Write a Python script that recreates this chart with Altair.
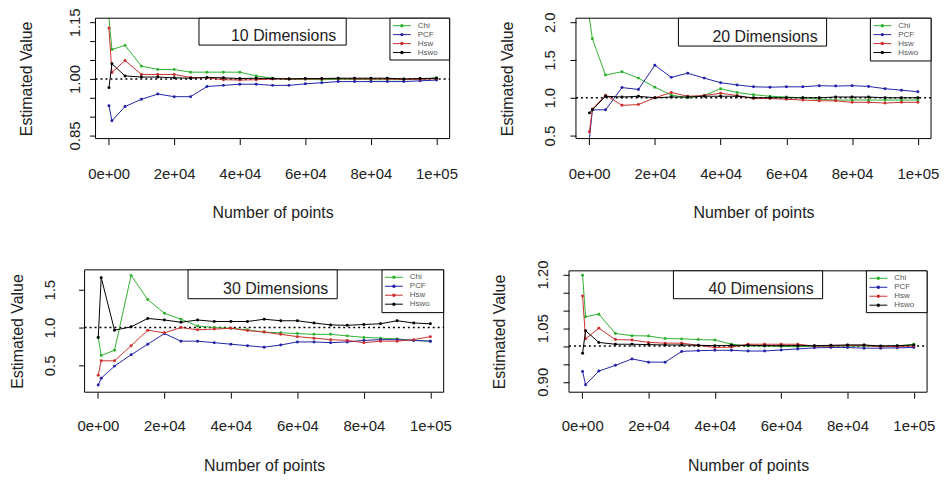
import altair as alt
import pandas as pd

FONT = "Liberation Sans"
W, H = 938, 472

SERIES = ["Chi", "PCF", "Hsw", "Hswo"]
COLORS = {"Chi": "#2fb12f", "PCF": "#2323a8", "Hsw": "#cc2e2e", "Hswo": "#000000"}

X_POINTS = [100, 1000, 5000, 10000, 15000, 20000, 25000, 30000, 35000, 40000, 45000,
            50000, 55000, 60000, 65000, 70000, 75000, 80000, 85000, 90000, 95000, 100000]

# 10 dimensions
chi10 = [1.25, 1.078, 1.089, 1.034, 1.025, 1.025, 1.018, 1.018, 1.018, 1.018, 1.008,
         1.002, 1.0, 0.999, 0.998, 0.999, 0.999, 0.998, 0.998, 0.998, 0.999, 1.003]
pcf10 = [0.929, 0.889, 0.927, 0.946, 0.960, 0.953, 0.953, 0.980, 0.983, 0.986, 0.986,
         0.983, 0.983, 0.987, 0.990, 0.993, 0.993, 0.993, 0.993, 0.993, 0.995, 0.997]
hsw10 = [1.135, 1.017, 1.049, 1.012, 1.012, 1.012, 1.004, 1.003, 0.998, 0.997, 0.998,
         1.0, 1.0, 1.0, 1.0, 1.001, 1.0, 1.0, 1.0, 0.999, 0.999, 1.001]
hswo10 = [0.977, 1.040, 1.008, 1.005, 1.005, 1.003, 1.002, 1.004, 1.003, 1.001, 1.002,
          1.001, 1.0, 1.001, 1.001, 1.002, 1.002, 1.002, 1.002, 1.0, 1.001, 1.002]

# 20 dimensions
chi20 = [2.3, 1.78, 1.30, 1.345, 1.26, 1.14, 1.035, 1.0, 1.03, 1.12, 1.07,
         1.04, 1.02, 1.01, 1.0, 0.98, 0.97, 0.97, 0.97, 0.97, 0.97, 0.97]
pcf20 = [0.40, 0.84, 0.84, 1.135, 1.11, 1.43, 1.27, 1.325, 1.26, 1.20, 1.17,
         1.145, 1.14, 1.145, 1.145, 1.16, 1.155, 1.16, 1.15, 1.12, 1.10, 1.08]
hsw20 = [0.55, 0.85, 1.035, 0.90, 0.91, 1.0, 1.07, 1.02, 1.03, 1.06, 1.03,
         0.99, 0.99, 0.98, 0.97, 0.96, 0.96, 0.94, 0.94, 0.93, 0.94, 0.94]
hswo20 = [0.80, 0.84, 1.02, 1.01, 1.02, 1.0, 1.01, 1.01, 1.02, 1.02, 1.02,
          1.0, 1.0, 1.0, 1.0, 1.0, 1.01, 1.01, 1.01, 1.0, 1.0, 1.0]

# 30 dimensions
chi30 = [0.87, 0.63, 0.70, 1.69, 1.37, 1.19, 1.11, 1.02, 1.0, 0.99, 0.97,
         0.94, 0.93, 0.92, 0.91, 0.91, 0.89, 0.87, 0.86, 0.85, 0.83, 0.82]
pcf30 = [0.24, 0.33, 0.49, 0.64, 0.78, 0.92, 0.82, 0.82, 0.80, 0.78, 0.76,
         0.74, 0.77, 0.81, 0.81, 0.80, 0.81, 0.83, 0.84, 0.84, 0.83, 0.82]
hsw30 = [0.37, 0.56, 0.56, 0.76, 0.965, 0.93, 1.0, 0.97, 0.98, 0.99, 0.96,
         0.94, 0.91, 0.88, 0.86, 0.84, 0.83, 0.80, 0.82, 0.82, 0.84, 0.88]
hswo30 = [0.87, 1.66, 0.965, 1.01, 1.12, 1.10, 1.07, 1.10, 1.08, 1.08, 1.08,
          1.11, 1.09, 1.09, 1.06, 1.035, 1.03, 1.04, 1.05, 1.09, 1.06, 1.05]

# 40 dimensions
chi40 = [1.198, 1.082, 1.089, 1.035, 1.029, 1.028, 1.021, 1.02, 1.018, 1.017, 1.005,
         1.0, 1.0, 0.999, 0.998, 1.0, 1.0, 1.0, 1.0, 0.999, 1.0, 1.005]
pcf40 = [0.929, 0.892, 0.93, 0.946, 0.964, 0.955, 0.955, 0.985, 0.987, 0.988, 0.988,
         0.986, 0.986, 0.989, 0.992, 0.995, 0.996, 0.996, 0.994, 0.994, 0.995, 0.996]
hsw40 = [1.14, 1.02, 1.05, 1.018, 1.017, 1.01, 1.008, 1.008, 1.002, 0.996, 0.997,
         1.005, 1.005, 1.005, 1.005, 1.0, 1.0, 1.002, 1.002, 0.998, 0.999, 1.0]
hswo40 = [0.98, 1.043, 1.01, 1.005, 1.005, 1.004, 1.003, 1.003, 1.002, 1.001, 1.002,
          1.002, 1.001, 1.001, 1.001, 1.001, 1.002, 1.003, 1.003, 1.0, 1.001, 1.003]

X_TICKS = [0, 20000, 40000, 60000, 80000, 100000]
X_DOMAIN = [-4000, 104000]

PANELS = [
    dict(title="10 Dimensions", values=dict(Chi=chi10, PCF=pcf10, Hsw=hsw10, Hswo=hswo10),
         left=88, right=444, top=9, bottom=130, ydom=[0.842, 1.161],
         yticks=[0.85, 0.90, 0.95, 1.00, 1.05, 1.10, 1.15], ylab=[0.85, 1.0, 1.15], fmt=".2f",
         ylabpad=7, xlabpad=22, ytitx=-69, xtity=74,
         tbox=(192, 340, 9, 36), ttext=(330, 32), lbox=(384, 444, 9, 51)),
    dict(title="20 Dimensions", values=dict(Chi=chi20, PCF=pcf20, Hsw=hsw20, Hswo=hswo20),
         left=571, right=928, top=9, bottom=130, ydom=[0.46, 2.053],
         yticks=[0.5, 1.0, 1.5, 2.0], ylab=[0.5, 1.0, 1.5, 2.0], fmt=".1f",
         ylabpad=13, xlabpad=22, ytitx=-69, xtity=74,
         tbox=(674, 823, 9, 37), ttext=(814, 33), lbox=(867, 928, 9, 52)),
    dict(title="30 Dimensions", values=dict(Chi=chi30, PCF=pcf30, Hsw=hsw30, Hswo=hswo30),
         left=77, right=438, top=262, bottom=385, ydom=[0.145, 1.763],
         yticks=[0.5, 1.0, 1.5], ylab=[0.5, 1.0, 1.5], fmt=".1f",
         ylabpad=21, xlabpad=20, ytitx=-67, xtity=74,
         tbox=(181, 331, 262, 291), ttext=(322, 286), lbox=(376, 438, 262, 305)),
    dict(title="40 Dimensions", values=dict(Chi=chi40, PCF=pcf40, Hsw=hsw40, Hswo=hswo40),
         left=564, right=924, top=263, bottom=385, ydom=[0.871, 1.21],
         yticks=[0.90, 0.95, 1.00, 1.05, 1.10, 1.15, 1.20], ylab=[0.9, 1.05, 1.2], fmt=".2f",
         ylabpad=13, xlabpad=20, ytitx=-70, xtity=74,
         tbox=(669, 819, 263, 291), ttext=(810, 286), lbox=(863, 924, 263, 305)),
]

X_LABEL_EXPR = ("datum.value == 0 ? '0e+00' : datum.value == 100000 ? '1e+05' : "
                "format(datum.value / 10000, 'd') + 'e+04'")

TXT = "#222222"


def make_panel(cfg):
    rows = []
    for s in SERIES:
        for xv, yv in zip(X_POINTS, cfg["values"][s]):
            rows.append({"series": s, "x": xv, "value": yv})
    df = pd.DataFrame(rows)
    y0, y1 = cfg["ydom"]

    xs = alt.Scale(domain=X_DOMAIN, range=[cfg["left"], cfg["right"]], nice=False, zero=False)
    ys = alt.Scale(domain=cfg["ydom"], range=[cfg["bottom"], cfg["top"]], nice=False,
                   zero=False, clamp=True)

    cond = " || ".join(f"abs(datum.value - {v}) < 1e-6" for v in cfg["ylab"])
    ylabel_expr = f"({cond}) ? format(datum.value, '{cfg['fmt']}') : ''"

    xaxis = alt.Axis(orient="bottom", offset=cfg["bottom"] - H, values=X_TICKS,
                     labelExpr=X_LABEL_EXPR, title="Number of points", grid=False,
                     domain=False, tickSize=6, tickColor="black", tickWidth=1,
                     labelFontSize=15, labelFont=FONT, labelColor=TXT,
                     labelPadding=cfg["xlabpad"], labelFlush=False, labelOverlap=False,
                     titleFontSize=16, titleFont=FONT, titleColor=TXT,
                     titleFontWeight="normal", titleY=cfg["xtity"], titleBaseline="middle")
    yaxis = alt.Axis(orient="left", offset=-cfg["left"], values=cfg["yticks"],
                     labelExpr=ylabel_expr, title="Estimated Value", grid=False,
                     domain=False, tickSize=6, tickColor="black", tickWidth=1,
                     labelFontSize=15, labelFont=FONT, labelColor=TXT,
                     labelAngle=270, labelAlign="center", labelBaseline="bottom",
                     labelPadding=cfg["ylabpad"], labelFlush=False, labelOverlap=False,
                     titleFontSize=16, titleFont=FONT, titleColor=TXT,
                     titleFontWeight="normal", titleAngle=270, titleBaseline="middle",
                     titleX=cfg["ytitx"])

    frame = pd.DataFrame({"x0": [X_DOMAIN[0]], "x1": [X_DOMAIN[1]],
                          "y0": [y0], "y1": [y1], "one": [1.0]})

    layers = []
    # dotted reference line at 1
    layers.append(alt.Chart(frame).mark_rule(color="black", strokeDash=[2, 3], strokeWidth=1.4).encode(
        x=alt.X("x0:Q", scale=xs, axis=xaxis), x2="x1:Q",
        y=alt.Y("one:Q", scale=ys, axis=yaxis)))

    for s in SERIES:
        c = COLORS[s]
        base = alt.Chart(df).transform_filter(alt.datum.series == s)
        layers.append(base.mark_line(color=c, strokeWidth=1).encode(
            x=alt.X("x:Q", scale=xs, axis=xaxis),
            y=alt.Y("value:Q", scale=ys, axis=yaxis)))
        layers.append(base.transform_filter(
            (alt.datum.value >= y0) & (alt.datum.value <= y1)
        ).mark_point(filled=True, size=9, color=c, opacity=1).encode(
            x=alt.X("x:Q", scale=xs, axis=xaxis),
            y=alt.Y("value:Q", scale=ys, axis=yaxis)))

    # plot box
    layers.append(alt.Chart(frame).mark_rect(filled=False, color="black", strokeWidth=1).encode(
        x=alt.X("x0:Q", scale=xs, axis=xaxis), x2="x1:Q",
        y=alt.Y("y0:Q", scale=ys, axis=yaxis), y2="y1:Q"))

    one = pd.DataFrame({"label": [cfg["title"]]})
    bx0, bx1, by0, by1 = cfg["tbox"]
    layers.append(alt.Chart(one).mark_rect(fill="white", stroke="black", strokeWidth=1).encode(
        x=alt.value(bx0), x2=alt.value(bx1), y=alt.value(by0), y2=alt.value(by1)))
    tx, ty = cfg["ttext"]
    layers.append(alt.Chart(one).mark_text(align="right", baseline="alphabetic", fontSize=16,
                                           font=FONT, color=TXT).encode(
        x=alt.value(tx), y=alt.value(ty), text="label:N"))

    lx0, lx1, ly0, ly1 = cfg["lbox"]
    layers.append(alt.Chart(one).mark_rect(fill="white", stroke="black", strokeWidth=1).encode(
        x=alt.value(lx0), x2=alt.value(lx1), y=alt.value(ly0), y2=alt.value(ly1)))
    for i, s in enumerate(SERIES):
        c = COLORS[s]
        yy = ly0 + 7.5 + i * 9
        layers.append(alt.Chart(one).mark_rule(color=c, strokeWidth=1).encode(
            x=alt.value(lx0 + 3), x2=alt.value(lx0 + 21), y=alt.value(yy)))
        layers.append(alt.Chart(one).mark_point(filled=True, size=12, color=c, opacity=1).encode(
            x=alt.value(lx0 + 12), y=alt.value(yy)))
        layers.append(alt.Chart(one).mark_text(align="left", baseline="middle", fontSize=8,
                                               font=FONT, color="#555555").encode(
            x=alt.value(lx0 + 28), y=alt.value(yy), text=alt.value(s)))

    return alt.layer(*layers)


panels = [make_panel(cfg) for cfg in PANELS]

chart = alt.layer(*panels).resolve_scale(
    x="independent", y="independent"
).resolve_axis(
    x="independent", y="independent"
).properties(
    width=W, height=H, padding=0,
    autosize=alt.AutoSizeParams(type="none"),
).configure_view(stroke=None)

chart.save("out.html", embed_options={"renderer": "svg", "actions": False})
